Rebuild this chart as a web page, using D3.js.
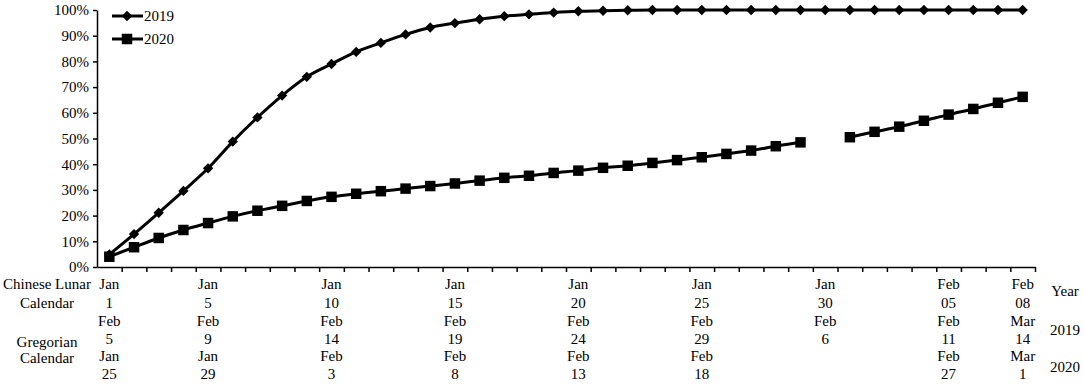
<!DOCTYPE html>
<html lang="en">
<head>
<meta charset="UTF-8">
<title>Lunar calendar progress 2019 vs 2020</title>
<script src="https://cdn.jsdelivr.net/npm/d3@7"></script>
<style>
  body { margin: 0; background: #fff; }
  svg text { font-family: "Liberation Serif", "Times New Roman", serif; font-size: 15px; fill: #000; }
  .axis path, .axis line { stroke: #000; stroke-width: 1.5px; }
</style>
</head>
<body>
<div id="chart"></div>
<script>
// one entry per lunar day, Jan 1 .. Jan 30, Feb 01 .. Feb 08
var days = d3.range(38);

var values2019 = [4.9, 12.8, 21.1, 29.6, 38.4, 48.8, 58.2, 66.7, 74.0, 79.0,
  83.7, 87.2, 90.5, 93.2, 94.9, 96.4, 97.6, 98.3, 99.0, 99.5,
  99.7, 99.9, 100, 100, 100, 100, 100, 100, 100, 100,
  100, 100, 100, 100, 100, 100, 100, 100];

var values2020 = [4.0, 7.7, 11.3, 14.4, 17.1, 19.7, 21.9, 23.8, 25.7, 27.3,
  28.5, 29.5, 30.5, 31.5, 32.5, 33.6, 34.7, 35.5, 36.6, 37.5,
  38.6, 39.4, 40.5, 41.6, 42.7, 44.0, 45.3, 47.0, 48.5, null,
  50.5, 52.6, 54.6, 56.9, 59.3, 61.5, 63.9, 66.2];

var yTicks = [0, 10, 20, 30, 40, 50, 60, 70, 80, 90, 100];

// labelled positions and their texts
var labelIdx = [0, 4, 9, 14, 19, 24, 29, 34, 37];
var lunarLabels = [["Jan", "1"], ["Jan", "5"], ["Jan", "10"], ["Jan", "15"], ["Jan", "20"],
  ["Jan", "25"], ["Jan", "30"], ["Feb", "05"], ["Feb", "08"]];
var greg2019Labels = [["Feb", "5"], ["Feb", "9"], ["Feb", "14"], ["Feb", "19"], ["Feb", "24"],
  ["Feb", "29"], ["Feb", "6"], ["Feb", "11"], ["Mar", "14"]];
var greg2020Labels = [["Jan", "25"], ["Jan", "29"], ["Feb", "3"], ["Feb", "8"], ["Feb", "13"],
  ["Feb", "18"], null, ["Feb", "27"], ["Mar", "1"]];

var w = 1084, h = 388;
var padLeft = 97, padRight = 1035, padTop = 10, axisY = 267;

var svg = d3.select('#chart').append('svg')
  .attr('width', w)
  .attr('height', h);

var xScale = d3.scaleBand()
  .domain(days)
  .range([padLeft, padRight])
  .padding(0);

var xEdge = d3.scaleLinear()
  .domain([0, days.length])
  .range([padLeft, padRight]);

var yScale = d3.scaleLinear()
  .domain([0, 100])
  .range([axisY, padTop]);

var cx = i => xScale(i) + xScale.bandwidth() / 2;

// axes
var yAxis = d3.axisLeft(yScale)
  .tickValues(yTicks)
  .tickSize(4)
  .tickSizeOuter(0)
  .tickFormat(d => d + '%');

svg.append('g')
  .attr('class', 'y axis')
  .attr('transform', 'translate(' + padLeft + ',0)')
  .call(yAxis)
  .attr('font-family', null)
  .attr('font-size', null)
  .call(g => g.selectAll('text').attr('x', -8));

var xAxis = d3.axisBottom(xEdge)
  .tickValues(d3.range(1, days.length + 1))
  .tickSize(5)
  .tickSizeOuter(0)
  .tickFormat('');

svg.append('g')
  .attr('class', 'x axis')
  .attr('transform', 'translate(0,' + axisY + ')')
  .call(xAxis);

// lines (smoothed, like the source)
var line = d3.line()
  .defined(d => d != null)
  .curve(d3.curveMonotoneX)
  .x((d, i) => cx(i))
  .y(d => yScale(d));

svg.append('path')
  .datum(values2019)
  .attr('fill', 'none')
  .attr('stroke', '#000')
  .attr('stroke-width', 3)
  .attr('d', line);

svg.append('path')
  .datum(values2020)
  .attr('fill', 'none')
  .attr('stroke', '#000')
  .attr('stroke-width', 3)
  .attr('d', line);

var diamond = d3.symbol().type(d3.symbolDiamond2).size(68);
var square = d3.symbol().type(d3.symbolSquare).size(110);

svg.append('g').selectAll('path')
  .data(values2019)
  .enter().append('path')
  .attr('d', diamond)
  .attr('transform', (d, i) => 'translate(' + cx(i) + ',' + yScale(d) + ')')
  .attr('fill', '#000');

svg.append('g').selectAll('path')
  .data(values2020.map((v, i) => ({ v: v, i: i })).filter(d => d.v != null))
  .enter().append('path')
  .attr('d', square)
  .attr('transform', d => 'translate(' + cx(d.i) + ',' + yScale(d.v) + ')')
  .attr('fill', '#000');

// legend
var legend = svg.append('g');
[['2019', diamond, 16], ['2020', square, 39]].forEach(function (it) {
  legend.append('line')
    .attr('x1', 112).attr('x2', 143)
    .attr('y1', it[2]).attr('y2', it[2])
    .attr('stroke', '#000').attr('stroke-width', 3);
  legend.append('path')
    .attr('d', it[1])
    .attr('transform', 'translate(127,' + it[2] + ')');
  legend.append('text')
    .attr('x', 144).attr('y', it[2] + 5)
    .text(it[0]);
});

// category label rows
function labelRow(labels, y1, y2) {
  var g = svg.append('g').attr('text-anchor', 'middle');
  labels.forEach(function (lab, k) {
    if (!lab) return;
    var x = cx(labelIdx[k]);
    g.append('text').attr('x', x).attr('y', y1).text(lab[0]);
    g.append('text').attr('x', x).attr('y', y2).text(lab[1]);
  });
}
labelRow(lunarLabels, 289, 308);
labelRow(greg2019Labels, 326, 344);
labelRow(greg2020Labels, 361, 379);

var side = svg.append('g').attr('text-anchor', 'middle');
side.append('text').attr('x', 47).attr('y', 289).text('Chinese Lunar');
side.append('text').attr('x', 47).attr('y', 308).text('Calendar');
side.append('text').attr('x', 47).attr('y', 347).text('Gregorian');
side.append('text').attr('x', 47).attr('y', 363).text('Calendar');
side.append('text').attr('x', 1065).attr('y', 296).text('Year');
side.append('text').attr('x', 1065).attr('y', 335).text('2019');
side.append('text').attr('x', 1065).attr('y', 372).text('2020');
</script>
</body>
</html>
